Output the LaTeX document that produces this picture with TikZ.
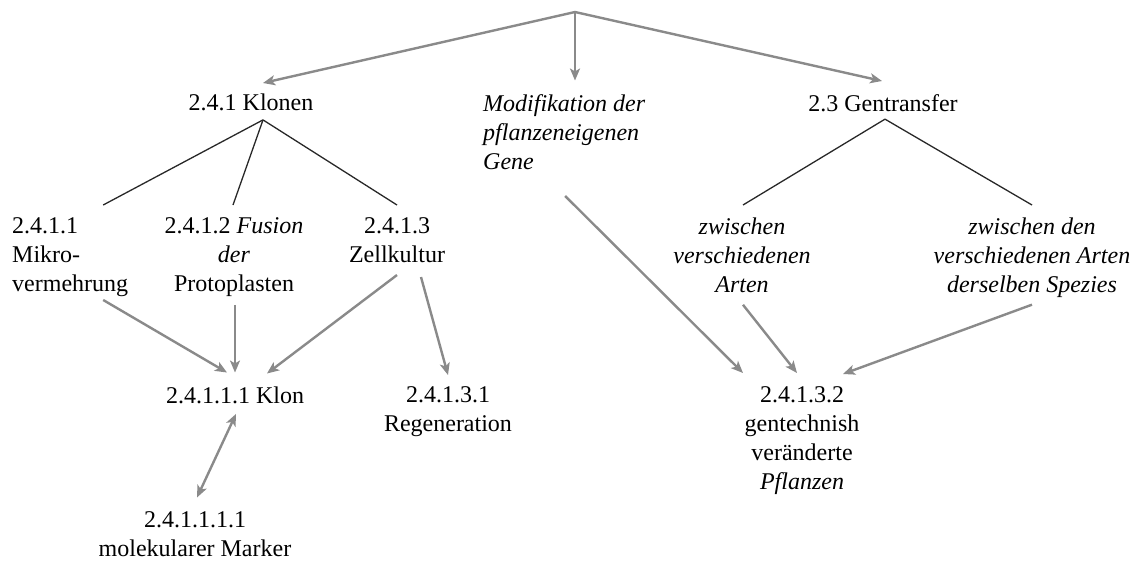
\documentclass[tikz,border=0pt]{standalone}
\usepackage{fontspec}
\setmainfont{Liberation Serif}
\usetikzlibrary{arrows.meta}
\definecolor{arrgray}{RGB}{138,138,138}
\definecolor{linegray}{RGB}{40,40,40}
\tikzset{
  >={Stealth[length=12pt,width=10pt,inset=3pt]},
  every node/.style={font=\fontsize{24}{29}\selectfont, inner sep=2pt, anchor=north, align=center},
  kursiv/.style={font=\fontsize{24}{29}\selectfont\itshape},
  branch/.style={draw=linegray, line width=1.3pt},
  arr/.style={->, draw=arrgray, line width=2.4pt},
}

\begin{document}
\begin{tikzpicture}[x=1pt,y=-1pt]
  \useasboundingbox (0,0) rectangle (1138,566);

  % top
  \coordinate (top) at (575,12);

  % first row
  \node (klonen) at (251,91.5) {2.4.1 Klonen};
  \node[kursiv, anchor=north west, align=left] (modif) at (481,92.5) {Modifikation der\\pflanzeneigenen\\Gene};
  \node (gentr) at (883,92.5) {2.3 Gentransfer};

  % second row
  \node[anchor=north west, align=left] (mikro) at (10,215.5) {2.4.1.1\\Mikro-\\vermehrung};
  \node (fusion) at (234,215.5) {2.4.1.2 \textit{Fusion}\\\textit{der}\\Protoplasten};
  \node (zell) at (397,215.5) {2.4.1.3\\Zellkultur};
  \node[kursiv] (zwart) at (742,215.5) {zwischen\\verschiedenen\\Arten};
  \node[kursiv] (spez) at (1032,215.5) {zwischen den\\verschiedenen Arten\\derselben Spezies};

  % third row
  \node (klon) at (235,384.5) {2.4.1.1.1 Klon};
  \node (regen) at (448,384.5) {2.4.1.3.1\\Regeneration};
  \node (pflanz) at (802,384.5) {2.4.1.3.2\\gentechnish\\veränderte\\\textit{Pflanzen}};
  \node (marker) at (195,509.5) {2.4.1.1.1.1\\molekularer Marker};

  % arrows from the top
  \draw[arr] (top) -- ([shift={(12pt,8.5pt)}]klonen.north);
  \draw[arr, shorten >=12pt] (top) -- (top |- modif.north);
  \draw[arr] (top) -- ([shift={(-1pt,11.5pt)}]gentr.north);

  % branches
  \draw[branch] ([shift={(12pt,-7pt)}]klonen.south) -- ([shift={(33pt,10.5pt)}]mikro.north);
  \draw[branch] ([shift={(12pt,-7pt)}]klonen.south) -- ([shift={(-1pt,10.5pt)}]fusion.north);
  \draw[branch] ([shift={(12pt,-7pt)}]klonen.south) -- ([yshift=10.5pt]zell.north);
  \draw[branch] ([shift={(2pt,-5pt)}]gentr.south) -- ([shift={(1pt,10.5pt)}]zwart.north);
  \draw[branch] ([shift={(2pt,-5pt)}]gentr.south) -- ([yshift=10.5pt]spez.north);

  % arrows to the clone
  \draw[arr] ([shift={(33pt,-1pt)}]mikro.south) -- ([shift={(-8pt,12pt)}]klon.north);
  \draw[arr] ([shift={(1pt,-6pt)}]fusion.south) -- ([yshift=12pt]klon.north);
  \draw[arr] ([yshift=-10pt]zell.south) -- ([shift={(32pt,11pt)}]klon.north);
  \draw[arr] ([shift={(24pt,-12pt)}]zell.south) -- ([yshift=9.5pt]regen.north);
  \draw[arr, <->] ([shift={(1pt,-8pt)}]klon.south) -- ([shift={(2pt,12pt)}]marker.north);

  % arrows to the plants
  \draw[arr] ([shift={(1pt,-24pt)}]modif.south) -- ([shift={(-59pt,11.5pt)}]pflanz.north);
  \draw[arr] ([shift={(1pt,-10pt)}]zwart.south) -- ([shift={(-5pt,11.5pt)}]pflanz.north);
  \draw[arr] ([yshift=-5pt]spez.south) -- ([shift={(41pt,10.5pt)}]pflanz.north);
\end{tikzpicture}
\end{document}
